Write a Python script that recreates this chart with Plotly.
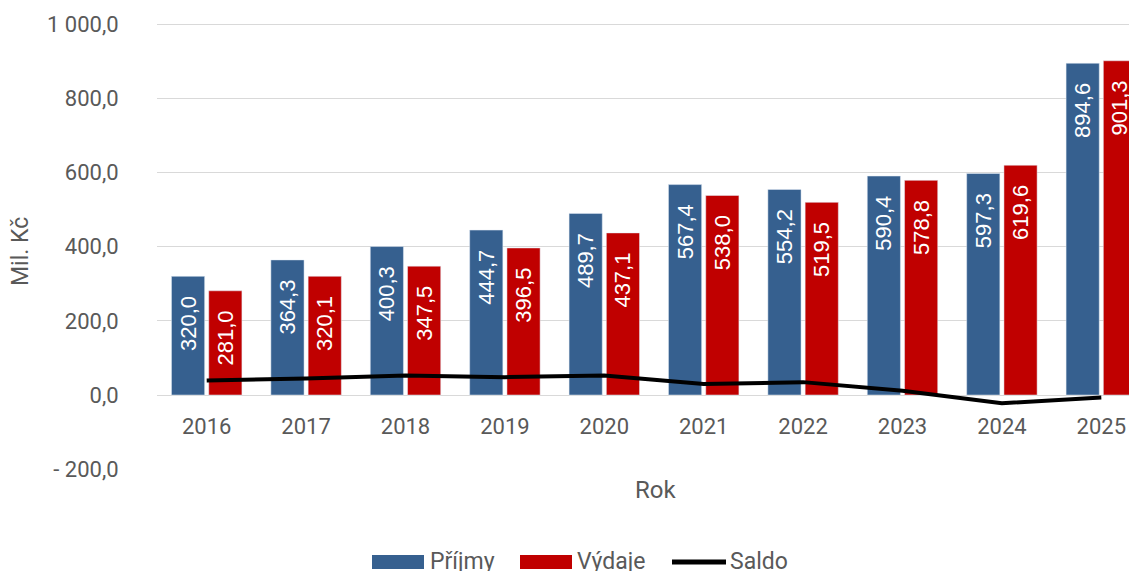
import plotly.graph_objects as go

years = ["2016", "2017", "2018", "2019", "2020", "2021", "2022", "2023", "2024", "2025"]
prijmy = [320.0, 364.3, 400.3, 444.7, 489.7, 567.4, 554.2, 590.4, 597.3, 894.6]
vydaje = [281.0, 320.1, 347.5, 396.5, 437.1, 538.0, 519.5, 578.8, 619.6, 901.3]
saldo = [39.0, 44.2, 52.8, 48.2, 52.6, 29.4, 34.7, 11.6, -22.3, -6.7]
y_tickvals = [-200, 0, 200, 400, 600, 800, 1000]
y_ticktext = ["- 200,0", "0,0", "200,0", "400,0", "600,0", "800,0", "1 000,0"]
series_names = ["Příjmy", "Výdaje", "Saldo"]
series_colors = ["#36608F", "#C00000", "#000000"]

def fmt(v):
    return f"{v:.1f}".replace(".", ",") + "\u00a0\u00a0\u2009"

GRAY = "#595959"
OFF = 8  # default page body margin
W, H = 1137 - OFF, 571 - OFF
L, R = 149, 0
pw = W - L - R
# vertical scale: 200 units = 74.17 px; value 0 at page y=395
s = 445 / 1200
top_px, bot_px = 23, 470
ymax = (395 - top_px) / s
ymin = -(bot_px - 395) / s
T = top_px - OFF
ph = bot_px - top_px
B = H - T - ph

def px(x):
    return (x - OFF - L) / pw

def py(y):
    return (T + ph - (y - OFF)) / ph

fig = go.Figure()
lab_font = dict(color="white", size=22, family="Liberation Sans, Arial, sans-serif")
fig.add_bar(x=years, y=prijmy, name=series_names[0], marker=dict(color=series_colors[0]),
            text=[fmt(v) for v in prijmy], textposition="inside", textangle=-90,
            insidetextanchor="end", textfont=lab_font, cliponaxis=True)
fig.add_bar(x=years, y=vydaje, name=series_names[1], marker=dict(color=series_colors[1]),
            text=[fmt(v) for v in vydaje], textposition="inside", textangle=-90,
            insidetextanchor="end", textfont=lab_font, cliponaxis=True)
fig.add_scatter(x=years, y=saldo, name=series_names[2], mode="lines",
                line=dict(color=series_colors[2], width=4))

# manual legend (wide swatches as in the reference)
shapes = [
    dict(type="rect", xref="paper", yref="paper", x0=px(372), x1=px(424),
         y0=py(569), y1=py(555), fillcolor=series_colors[0], line=dict(width=0)),
    dict(type="rect", xref="paper", yref="paper", x0=px(520), x1=px(572),
         y0=py(569), y1=py(555), fillcolor=series_colors[1], line=dict(width=0)),
    dict(type="line", xref="paper", yref="paper", x0=px(672), x1=px(726),
         y0=py(562), y1=py(562), line=dict(color=series_colors[2], width=5)),
]
annotations = [
    dict(text=series_names[0], x=px(428), y=py(561)),
    dict(text=series_names[1], x=px(575), y=py(561)),
    dict(text=series_names[2], x=px(728), y=py(561)),
]
for a in annotations:
    a.update(xref="paper", yref="paper", showarrow=False, xanchor="left",
             yanchor="middle", font=dict(size=23, color=GRAY))

annotations += [
    dict(text="Rok", xref="paper", yref="paper", x=px(655), y=py(490),
         showarrow=False, xanchor="center", yanchor="middle",
         font=dict(size=24, color=GRAY)),
    dict(text="Mil. Kč", xref="paper", yref="paper", x=px(21), y=py(252),
         showarrow=False, textangle=-90, xanchor="center", yanchor="middle",
         font=dict(size=23, color=GRAY)),
]

fig.update_layout(
    width=W, height=H,
    margin=dict(l=L, r=R, t=T, b=B, pad=0),
    plot_bgcolor="white", paper_bgcolor="white",
    font=dict(family="Roboto, Arial, sans-serif", size=22, color=GRAY),
    bargap=0.25, bargroupgap=0.11,
    showlegend=False,
    xaxis=dict(type="category", range=[-0.5, -0.5 + pw / 99.4],
               anchor="free", position=(0 - ymin) / (ymax - ymin), showline=False,
               ticks="outside", ticklen=12, tickcolor="rgba(0,0,0,0)",
               showgrid=False, automargin=False,
               tickfont=dict(size=22, color=GRAY)),
    yaxis=dict(range=[ymin, ymax], tickvals=y_tickvals, ticktext=y_ticktext,
               showgrid=True, gridcolor="#D9D9D9", gridwidth=1.3,
               zeroline=False, showline=False, domain=[0, 1], automargin=False,
               ticks="outside", ticklen=33, tickcolor="rgba(0,0,0,0)",
               tickfont=dict(size=22, color=GRAY)),
    shapes=shapes,
    annotations=annotations,
)

fig.write_html("out.html")
